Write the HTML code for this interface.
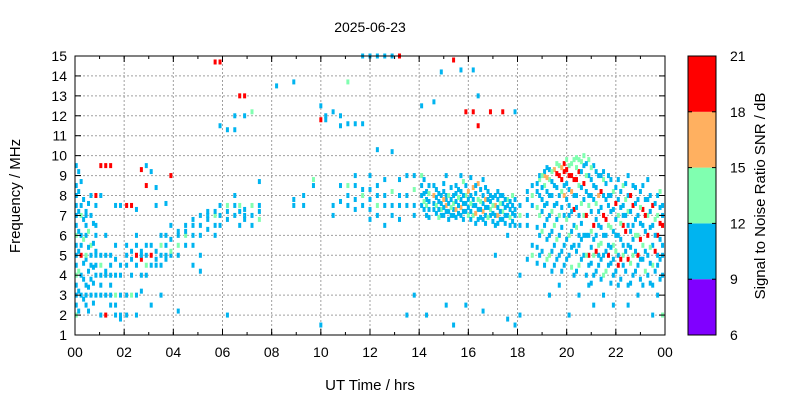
<!DOCTYPE html>
<html><head><meta charset="utf-8"><style>
body{margin:0;background:#fff;}
svg{display:block;font-family:"Liberation Sans",sans-serif;}
</style></head><body>
<svg id="chart" width="800" height="400" xmlns="http://www.w3.org/2000/svg">
<rect width="800" height="400" fill="#fff"/>
<text x="370" y="32" font-size="14" text-anchor="middle">2025-06-23</text>
<g id="grid"></g><g id="spots"></g><g id="axes"></g><g id="cbar"></g>
<text x="370" y="390" font-size="15" text-anchor="middle">UT Time / hrs</text>
<text transform="translate(20,196) rotate(-90)" font-size="15" text-anchor="middle">Frequency / MHz</text>
<text transform="translate(765,196) rotate(-90)" font-size="15" text-anchor="middle">Signal to Noise Ratio SNR / dB</text>
</svg>
<script>
const xTicks=["00","02","04","06","08","10","12","14","16","18","20","22","00"];
const yTicks=[1,2,3,4,5,6,7,8,9,10,11,12,13,14,15];
const cbTicks=[6,9,12,15,18,21];
const cbColors=["#8000ff","#00b4f0","#80ffb0","#ffb060","#ff0000"];
const times=[0.05,0.25,0.45,0.65,0.85,1.05,1.25,1.45,1.65,1.85,2.1,2.3,2.5,2.7,2.9,3.1,3.3,3.5,3.7,3.9,4.2,4.5,4.8,5.1,5.4,5.7,5.9,6.2,6.5,6.7,6.9,7.2,7.5,8.2,8.9,9.3,9.7,10,10.2,10.5,10.8,11.1,11.4,11.7,12,12.3,12.6,12.9,13.2,13.5,13.8,14.1,14.3,14.6,14.9,15.1,15.4,15.7,15.9,16.2,16.4,16.6,16.9,17.1,17.4,17.6,17.9,18.1,18.4,18.6,18.9,19.1,19.3,19.5,19.7,19.9,20.1,20.3,20.5,20.7,20.9,21.1,21.3,21.5,21.7,21.9,22.1,22.3,22.5,22.7,22.9,23.1,23.3,23.5,23.7,23.9];
const spots=[
[[2,13],[2.5,10],[3,10],[3.5,10],[4,13],[4.5,10],[5,10],[5.5,10],[6,13],[6.5,10],[7,10],[7.5,10],[8,10],[8.5,10],[9.5,10]],
[[3,10],[4,10],[5,19],[5.5,10],[6,10],[7,13],[7.5,10],[8.7,10]],
[[2.5,10],[3,10],[3.5,10],[4.8,10],[5,13],[6,10],[6.5,10],[7,10],[7.2,10]],
[[3,10],[3.8,10],[4.5,10],[5,10],[5.5,13],[7,10],[8,10]],
[[3,10],[4,10],[4.5,10],[5,10],[5.2,10],[6,10],[6.5,10],[7.5,10],[8,19]],
[[2,10],[3,10],[3.5,10],[4,10],[4.5,13],[5,10],[9.5,19],[8,10]],
[[2,19],[3,10],[4,10],[4.2,10],[5,10],[9.5,19],[6,10]],
[[2.5,10],[3,10],[3.5,10],[4,10],[4.5,10],[5,10],[9.5,19]],
[[2,10],[2.5,10],[3,13],[4,10],[4.8,10],[5.5,10],[7.5,10]],
[[2,10],[3,10],[4,10],[4.5,10],[7.5,10],[1.8,10]],
[[2,10],[3,10],[4.5,10],[5,10],[5.5,10],[7.5,19]],
[[3,13],[4,10],[4.8,10],[5.2,10],[7.5,19]],
[[3,10],[4.5,10],[5,19],[5.5,10],[6,10],[7.3,10],[2,10]],
[[3.2,10],[4,10],[4.8,19],[5.2,10],[5,10],[9.3,19]],
[[4,10],[4.5,13],[5,10],[5.5,10],[8.5,19],[9.5,10]],
[[4.5,10],[5,19],[5.5,10],[9.2,10],[2.5,10]],
[[4.5,10],[4.8,10],[5.2,10],[8.4,10],[7.5,10]],
[[4.5,10],[5,10],[5.5,13],[6,10],[3,10]],
[[4.8,10],[5,10],[5.5,10],[6,10],[7.6,10]],
[[5,10],[5.2,13],[5.8,10],[6.5,10],[9,19]],
[[5,10],[5.5,13],[6,10],[6.2,10],[2.2,10]],
[[5.5,10],[6,13],[6.2,10],[6.5,10]],
[[5.5,10],[6,10],[6.5,10],[6.8,10],[4.5,10]],
[[6,10],[6.5,10],[7,10],[5,10],[4.2,10]],
[[6.3,10],[6.8,10],[7,10],[7.2,10]],
[[6.5,10],[7,13],[7.2,10],[6,10],[14.7,19]],
[[6.5,10],[7,10],[7.5,10],[11.5,10],[14.7,19]],
[[6.8,10],[7.2,10],[7.5,13],[2,10],[11.3,10]],
[[7,10],[7.5,10],[8,10],[11.3,10],[12,10]],
[[7.2,10],[7.5,13],[6.5,10],[13,19]],
[[7,10],[7.3,10],[6.8,10],[13,19],[12,10]],
[[7.5,13],[7,10],[6.5,10],[12.2,13]],
[[7.2,10],[7.5,10],[6.8,13],[8.7,10]],
[[13.5,10]],
[[7.5,10],[7.8,10],[13.7,10]],
[[7.5,10],[8,10]],
[[8.5,10],[8.8,13]],
[[12.5,10],[11.8,19],[1.5,10]],
[[12,10],[11.8,10]],
[[7,10],[7.5,10],[12.2,10]],
[[8.5,10],[12,10],[11.5,10],[7.7,10]],
[[8,10],[8.5,13],[7.5,10],[11.6,10],[13.7,13]],
[[7.3,10],[7.8,10],[8.5,10],[9,10],[11.6,10]],
[[7.5,10],[8,13],[8.3,10],[11.6,10],[15,10]],
[[6.8,10],[7.3,10],[7.8,10],[8.3,10],[9,10],[15,10]],
[[7,10],[7.5,13],[8,10],[8.5,10],[15,10],[10.3,10]],
[[6.5,10],[7.5,10],[8,10],[8.8,10],[15,10]],
[[7,10],[7.5,10],[8.2,13],[10.2,10],[15,10]],
[[6.8,10],[7.5,10],[8,10],[8.8,10],[15,19]],
[[7.5,10],[8,10],[9,10],[2,10]],
[[7,10],[7.5,10],[8.3,13],[9,10],[3,10]],
[[7.5,10],[8,10],[8.5,10],[9,13],[12.5,10]],
[[7,10],[7.5,13],[7.8,10],[8.2,10],[2,10]],
[[7.3,10],[7.6,10],[8,16],[8.5,10],[12.7,10]],
[[7,10],[7.3,13],[7.6,10],[8,10],[14.2,10]],
[[7.2,10],[7.5,16],[7.8,10],[8,10],[9,10],[2.5,10]],
[[7,10],[7.3,10],[7.6,13],[8,10],[1.5,10],[14.8,19]],
[[7,10],[7.4,16],[7.8,10],[8.2,10],[9,10],[14.3,10]],
[[7.2,10],[7.6,10],[8,13],[8.5,10],[12.2,19],[2.5,10]],
[[7,13],[7.5,10],[7.8,10],[8.4,16],[12.2,19],[14.3,10]],
[[6.8,10],[7.3,10],[7.8,13],[8.6,16],[11.5,19],[13,10]],
[[6.8,10],[7.2,16],[7.6,10],[8,10],[8.8,10],[2.2,10]],
[[7,10],[7.3,13],[7.7,10],[8,10],[12.2,19]],
[[6.5,10],[7,10],[7.5,16],[8,10],[5,10]],
[[6.8,10],[7.2,13],[7.6,10],[8,10],[12.2,19]],
[[7,10],[7.5,10],[7.8,13],[6,10],[1.8,10]],
[[6.5,10],[7,10],[7.3,10],[7.8,10],[1.5,10],[12.2,10]],
[[6.5,10],[7,13],[7.5,10],[2,10],[4,10]],
[[6.5,10],[7,10],[7.8,10],[8.2,10],[4.8,10]],
[[5,13],[5.5,10],[7.5,10],[8,13],[8.5,10]],
[[5,10],[6,10],[7,13],[8,10],[8.8,13],[9,10]],
[[4.5,10],[6.5,10],[7.5,10],[8.5,13],[9,16],[9.2,10]],
[[5,13],[6,10],[7,10],[8,10],[8.8,13],[9.3,10],[3,10]],
[[5.5,10],[6.5,13],[7.5,10],[8.5,10],[9.3,16],[4.5,10]],
[[5,10],[6,10],[7,13],[8,10],[9,19],[9.5,13],[3.5,10]],
[[4.5,10],[5.5,10],[7,10],[8,16],[8.5,10],[9.2,19],[9.6,19]],
[[5,10],[6,13],[7,10],[7.5,10],[8.3,10],[9,19],[9.5,13],[2,10]],
[[4,10],[5.5,10],[6.5,10],[7.3,19],[8,10],[8.8,19],[9.8,13]],
[[4.5,13],[5.5,10],[6,10],[7,10],[8.5,13],[9.2,19],[9.8,13],[3,10]],
[[5,10],[6,10],[7,13],[7.8,10],[8.6,19],[9.5,10],[10,13]],
[[3.5,10],[4.5,10],[5,19],[6,10],[7.5,13],[8,10],[9,10],[9.8,13]],
[[2.5,10],[4,10],[5,13],[5.8,10],[6.5,19],[7.8,10],[8.5,10],[9.5,10]],
[[4.5,10],[5,10],[5.5,13],[6.5,10],[7.2,10],[8,16],[9,10]],
[[3,10],[4,13],[5,10],[6,10],[7,19],[8,10],[8.8,13],[9.2,10]],
[[4.5,10],[5,19],[5.5,10],[6.5,13],[7.5,10],[8,10],[9,10]],
[[2.5,10],[4,10],[4.8,10],[5.5,13],[6.2,10],[7.3,10],[8.2,13]],
[[3.5,10],[4.5,19],[5,10],[6,10],[7,13],[7.8,10],[8.8,10]],
[[4.5,10],[5,13],[5.5,10],[6.5,19],[7,10],[7.5,10],[8.5,13]],
[[2.5,10],[3.5,10],[4.8,19],[5.5,10],[6.5,10],[7.2,13],[8,10],[9,10]],
[[4,10],[5,13],[5.8,10],[6.5,10],[7.5,19],[8.5,10]],
[[3,10],[4.5,10],[5,19],[6,13],[7,10],[7.8,10]],
[[3.5,10],[4.8,10],[5.5,13],[6.5,10],[7.3,19],[8.5,10]],
[[4,10],[5,10],[6,19],[7,13],[7.8,10],[8.8,10]],
[[2,10],[3.5,10],[4.5,13],[5.5,10],[6.5,10],[7.5,19]],
[[3,10],[4.5,10],[5,10],[6,19],[7,13],[8,10]],
[[2,13],[4,10],[5,10],[5.5,10],[6.5,19],[7,10],[7.5,10]]
];
const times2=[0.15,0.35,0.55,0.75,14.2,14.4,14.7,14.8,15.0,15.2,15.3,15.5,15.6,15.8,16.0,16.1,16.3,16.5,16.7,16.8,17.0,17.2,17.3,17.5,17.7,17.8,18.8,19.0,19.2,19.4,19.6,19.8,20.0,20.2,20.4,20.6,20.8,21.0,21.2,21.4,21.6,21.8,22.0,22.2,22.4,22.6,22.8,23.0,23.2,23.4,23.6,23.8];
const spots2=[
[[2.2,10],[3.2,10],[4.2,13],[5.2,10],[6.2,10],[7.2,10],[8.2,10],[9.2,10]],
[[2.8,10],[3.8,10],[4.6,10],[5.8,13],[6.8,10],[7.8,10]],
[[2.2,10],[3.4,10],[4.2,10],[5.4,10],[6.2,13],[7.6,10]],
[[2.6,10],[3.6,10],[4.4,10],[5.6,10],[6.6,10]],
[[7.3,10],[7.7,13],[8.1,10],[8.8,10]],
[[6.9,10],[7.3,10],[7.7,10],[8.1,13],[8.5,10]],
[[7.1,10],[7.5,13],[7.9,10],[8.3,10]],
[[6.9,13],[7.3,10],[7.7,10],[8.1,10]],
[[7.0,10],[7.4,10],[7.8,16],[8.2,10],[8.6,10]],
[[6.8,10],[7.2,10],[7.6,10],[8.0,13]],
[[7.0,10],[7.4,13],[7.8,10],[8.4,10]],
[[6.9,10],[7.3,16],[7.7,10],[8.1,10],[8.5,10]],
[[7.1,10],[7.5,10],[7.9,13],[8.3,10]],
[[6.8,10],[7.2,10],[7.6,10],[8.0,10],[8.7,13]],
[[7.0,13],[7.4,10],[7.8,10],[8.2,16]],
[[6.8,10],[7.2,10],[7.6,13],[8.0,10],[8.9,10]],
[[6.6,10],[7.1,16],[7.5,10],[8.1,10],[8.5,10]],
[[6.9,10],[7.3,10],[7.7,13],[8.3,10]],
[[6.6,10],[7.0,10],[7.4,10],[7.8,16],[8.4,10]],
[[6.9,13],[7.4,10],[7.8,10],[8.2,10]],
[[6.7,10],[7.1,10],[7.5,13],[7.9,10]],
[[6.6,10],[7.0,16],[7.4,10],[7.8,10],[8.2,10]],
[[6.8,10],[7.2,10],[7.6,13],[8.0,10]],
[[6.6,10],[7.0,10],[7.4,10],[7.8,10]],
[[6.5,10],[6.9,13],[7.3,10],[7.7,10]],
[[6.7,10],[7.1,10],[7.5,10],[8.0,13]],
[[4.6,10],[5.4,10],[6.4,10],[7.4,13],[8.2,10],[8.6,10]],
[[5.2,10],[6.2,13],[7.2,10],[7.8,10],[8.4,10],[9.0,13]],
[[4.8,13],[5.8,10],[6.8,10],[7.6,10],[8.2,10],[8.9,16],[9.4,10]],
[[4.2,10],[5.2,10],[6.2,10],[7.2,13],[8.0,10],[8.7,10],[9.2,13]],
[[4.8,10],[5.8,13],[6.8,10],[7.6,10],[8.4,10],[9.1,19],[9.6,13]],
[[4.2,10],[5.2,10],[6.4,10],[7.4,10],[8.2,13],[8.8,19],[9.4,16]],
[[4.8,10],[5.8,10],[6.8,13],[7.8,10],[8.6,10],[9.3,19],[9.8,13]],
[[4.4,13],[5.4,10],[6.2,10],[7.2,10],[8.2,16],[9.0,19],[9.6,13]],
[[4.2,10],[5.2,10],[6.4,13],[7.4,10],[8.0,10],[8.8,19],[9.4,13],[9.9,13]],
[[4.8,10],[5.8,10],[6.6,10],[7.6,13],[8.4,10],[9.2,10],[9.7,13]],
[[4.0,10],[5.0,13],[6.0,10],[7.0,19],[8.2,10],[9.0,13],[9.6,10]],
[[3.6,10],[4.6,10],[5.4,10],[6.2,13],[7.2,10],[8.0,10],[8.8,10],[9.4,13]],
[[4.2,10],[5.2,19],[6.0,10],[6.8,10],[7.6,13],[8.4,10],[9.2,10]],
[[3.8,10],[4.8,10],[5.6,13],[6.4,10],[7.4,10],[8.2,19],[9.0,10]],
[[4.2,13],[5.2,10],[6.0,10],[6.8,19],[7.8,10],[8.6,10]],
[[3.6,10],[4.6,10],[5.4,10],[6.4,13],[7.2,10],[8.0,10],[8.8,10]],
[[4.2,10],[5.2,13],[6.0,10],[6.8,10],[7.6,19],[8.4,10]],
[[3.8,10],[4.8,19],[5.8,10],[6.6,13],[7.4,10],[8.2,10]],
[[4.2,10],[5.2,10],[6.2,19],[7.0,10],[7.8,13],[8.6,10]],
[[3.6,10],[4.6,13],[5.4,10],[6.2,10],[7.2,10],[8.0,19]],
[[4.2,10],[5.2,10],[6.0,13],[6.8,10],[7.6,10],[8.4,10]],
[[3.8,10],[4.8,10],[5.8,19],[6.6,10],[7.4,13],[8.2,10]],
[[4.2,13],[5.2,10],[6.2,10],[7.0,19],[7.8,10]],
[[3.6,10],[4.6,10],[5.4,13],[6.4,10],[7.2,10],[8.0,10]],
[[4.2,10],[5.2,19],[6.0,10],[6.8,13],[7.6,10]],
[[3.8,10],[4.8,10],[5.8,10],[6.6,19],[7.4,10],[8.2,13]]
];
const NS="http://www.w3.org/2000/svg";
const L=75,R=665,T=56,B=335;
const xScale=t=>L+(R-L)*t/24;
const yScale=f=>B-(B-T)*(f-1)/14;
const cScale=v=>B-(B-T)*(v-6)/15;
function colorOf(s){const i=Math.min(4,Math.max(0,Math.floor((s-6)/3)));return cbColors[i];}
function mk(tag,attrs,parent){const e=document.createElementNS(NS,tag);for(const k in attrs)e.setAttribute(k,attrs[k]);parent.appendChild(e);return e;}
const grid=document.getElementById('grid'),axes=document.getElementById('axes'),sp=document.getElementById('spots'),cb=document.getElementById('cbar');
yTicks.forEach(v=>{const y=yScale(v);
 if(v>1&&v<15){const g=mk('line',{x1:L,x2:R,y1:y,y2:y,stroke:'#a0a0a0','stroke-dasharray':'2,2','stroke-width':1},grid);
 
 }
 mk('line',{x1:L,x2:L+6,y1:y,y2:y,stroke:'#000'},axes);mk('line',{x1:R,x2:R-6,y1:y,y2:y,stroke:'#000'},axes);
 const t=mk('text',{x:L-8,y:y+5,'font-size':14,'text-anchor':'end'},axes);t.textContent=v;
 
 });
xTicks.forEach((lab,i)=>{const x=xScale(i*2);
 if(i>0&&i<12){const g=mk('line',{x1:x,x2:x,y1:T,y2:B,stroke:'#a0a0a0','stroke-dasharray':'2,2','stroke-width':1},grid);
 
 }
 mk('line',{x1:x,x2:x,y1:B,y2:B-6,stroke:'#000'},axes);mk('line',{x1:x,x2:x,y1:T,y2:T+6,stroke:'#000'},axes);
 const t=mk('text',{x:x,y:B+22,'font-size':14,'text-anchor':'middle'},axes);t.textContent=lab;
 
 });
for(let i=0;i<24;i++){const x=xScale(i);mk('line',{x1:x,x2:x,y1:B,y2:B-3,stroke:'#000'},axes);mk('line',{x1:x,x2:x,y1:T,y2:T+3,stroke:'#000'},axes);}
const fr=mk('rect',{x:L,y:T,width:R-L,height:B-T,fill:'none',stroke:'#000'},axes);


function drawSpots(ts,ss){ts.forEach((t,i)=>{ss[i].forEach(p=>{
 const r=mk('rect',{x:xScale(t)-1.5,y:yScale(p[0])-2.5,width:3,height:5,fill:colorOf(p[1])},sp);
 
 });});}
drawSpots(times,spots);
drawSpots(times2,spots2);
cbColors.forEach((c,i)=>{const r=mk('rect',{x:688,y:cScale(cbTicks[i+1]),width:28,height:cScale(cbTicks[i])-cScale(cbTicks[i+1]),fill:c},cb);
 
 });
mk('rect',{x:688,y:T,width:28,height:B-T,fill:'none',stroke:'#000'},cb);
cbTicks.forEach(v=>{const y=cScale(v);mk('line',{x1:688,x2:692,y1:y,y2:y,stroke:'#000'},cb);mk('line',{x1:716,x2:712,y1:y,y2:y,stroke:'#000'},cb);
 const t=mk('text',{x:730,y:y+5,'font-size':14},cb);t.textContent=v;
 
 });
</script>
</body></html>
